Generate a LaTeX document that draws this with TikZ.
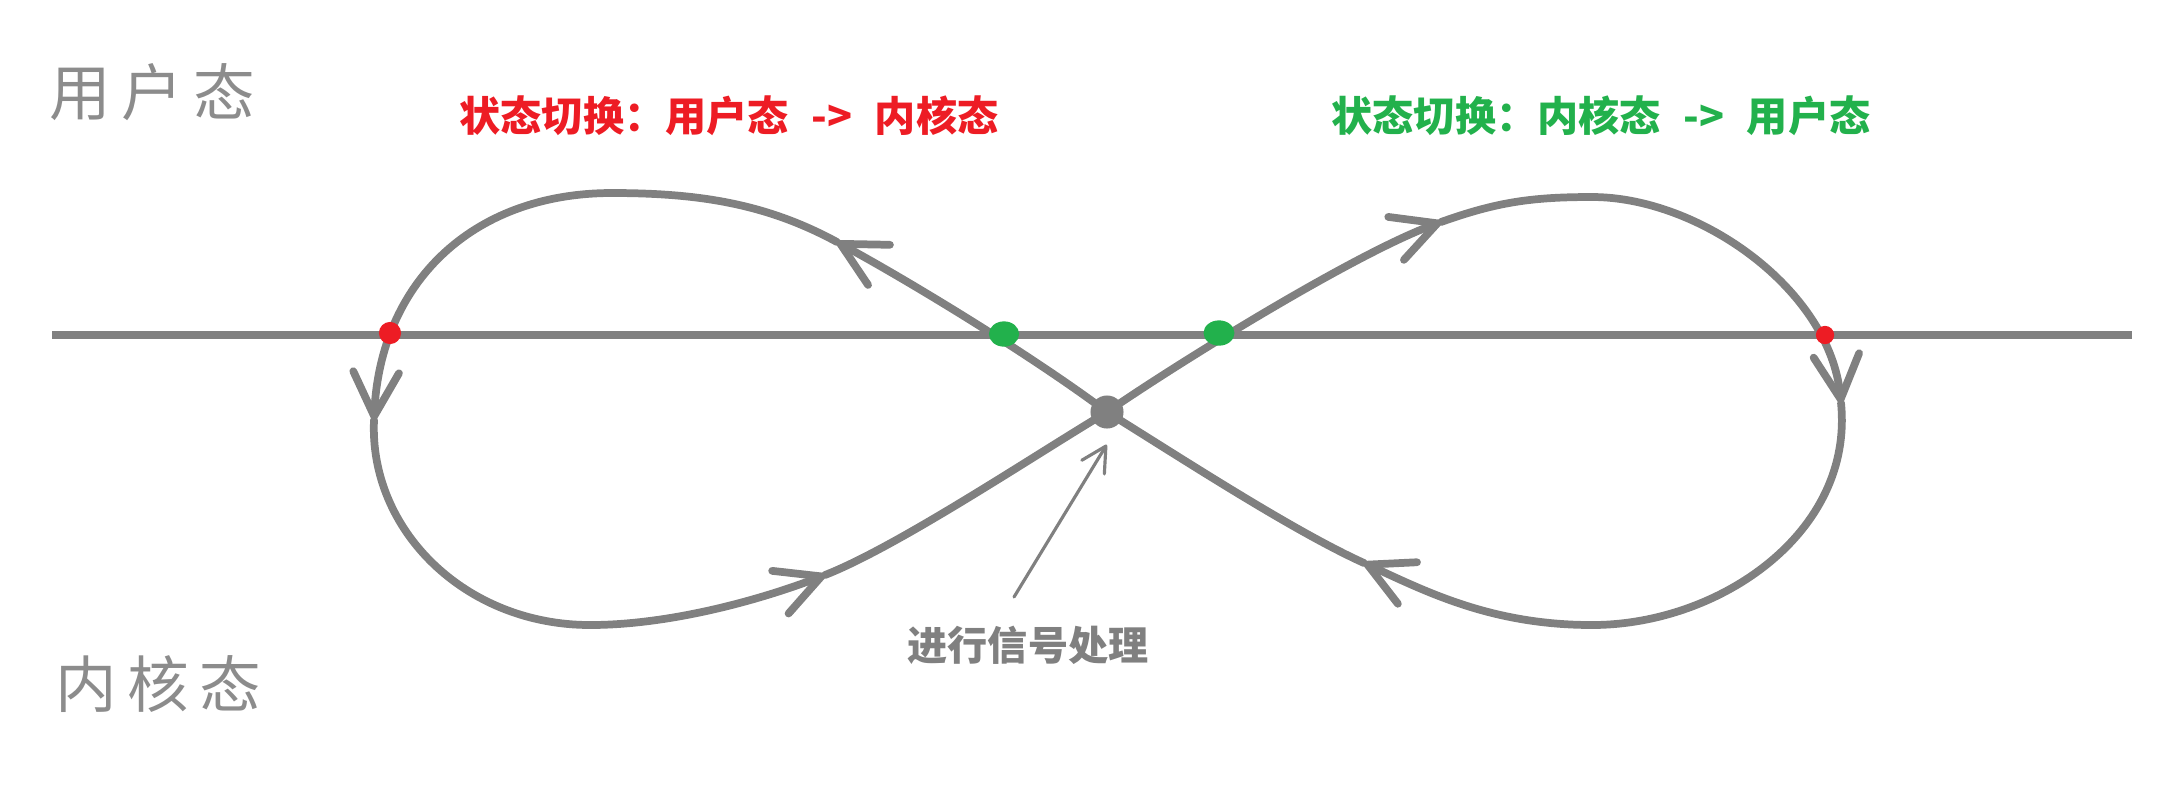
\documentclass[tikz,border=0pt]{standalone}
\usepackage{fontspec}
\newfontfamily\cjk{Noto Sans CJK SC}
\usetikzlibrary{arrows.meta, calc, shapes.geometric}

\definecolor{linegray}{RGB}{128,128,128}
\definecolor{txtgray}{RGB}{140,140,140}
\definecolor{dotred}{RGB}{237,28,36}
\definecolor{dotgreen}{RGB}{34,177,76}

\tikzset{
    flow/.style={draw=linegray, line width=2.2pt, line cap=round, line join=round},
    flowtip/.style={flow, -{Straight Barb[length=12.5pt, width=13pt, round]}},
    pointer/.style={draw=linegray, line width=0.9pt, line cap=round,
        -{Straight Barb[length=7pt, width=7.5pt, round]}},
    crossdot/.style={circle, fill=#1, inner sep=0pt},
    statelabel/.style={font=\cjk\fontsize{17.5pt}{20pt}\selectfont, text=txtgray},
    switchlabel/.style={font=\cjk\bfseries\fontsize{11.7pt}{14pt}\selectfont, text=#1},
}
\newcommand{\arrowgap}{\hspace{0.55em}->\hspace{0.55em}}

\begin{document}
\begin{tikzpicture}[x=0.01cm, y=-0.01cm]
    \useasboundingbox (0,0) rectangle (2158,796);

    % user / kernel boundary
    \coordinate (west) at (52,335);
    \coordinate (east) at (2132,335);
    \draw[flow, line cap=butt] (west) -- (east);

    % state labels
    \node[statelabel] (user) at (152,92) {用\kern3pt 户\kern3pt 态};
    \node[statelabel] (kernel) at (158,684) {内\kern3pt 核\kern3pt 态};
    \node[switchlabel=dotred] (toKernel) at (729,116) {状态切换：用户态\arrowgap 内核态};
    \node[switchlabel=dotgreen] (toUser) at (1601,116) {状态切换：内核态\arrowgap 用户态};

    % points on the loop
    \coordinate (cross) at (1107,412);
    \coordinate (lA) at (837,242);
    \coordinate (lT) at (612,193);
    \coordinate (lL) at (374,420);
    \coordinate (lB) at (590,625);
    \coordinate (lC) at (825,575);
    \coordinate (rA) at (1441,222);
    \coordinate (rT) at (1592,197);
    \coordinate (rR) at (1841,403);
    \coordinate (rB) at (1592,625);
    \coordinate (rC) at (1364,563);

    % left loop
    \draw[flowtip] (cross) .. controls (1035,358) and (916,285) .. (lA);
    \draw[flowtip] (lA) .. controls (767,204) and (700,193) .. (lT)
        .. controls (470,193) and (380,285) .. (lL);
    \draw[flowtip] (lL) .. controls (369,530) and (465,625) .. (lB)
        .. controls (670,625) and (760,600) .. (lC);
    \draw[flow] (lC) .. controls (899,546) and (1038,453) .. (cross);

    % right loop
    \draw[flowtip] (cross) .. controls (1181,361) and (1356,253) .. (rA);
    \draw[flowtip] (rA) .. controls (1497,202) and (1532,197) .. (rT)
        .. controls (1700,197) and (1830,290) .. (rR);
    \draw[flowtip] (rR) .. controls (1854,532) and (1720,625) .. (rB)
        .. controls (1492,625) and (1427,592) .. (rC);
    \draw[flow] (rC) .. controls (1291,530) and (1175,454) .. (cross);

    % switch points
    \node[crossdot=dotred, minimum size=6.3pt] (lRed) at (390,333) {};
    \node[crossdot=dotred, minimum size=5.2pt] (rRed) at (1825,335) {};
    \node[crossdot=dotgreen, ellipse, minimum width=8.6pt, minimum height=7.2pt] (lGreen) at (1004,334) {};
    \node[crossdot=dotgreen, ellipse, minimum width=8.8pt, minimum height=7.2pt] (rGreen) at (1219,333) {};
    \node[crossdot=linegray, minimum size=9.4pt] (sigdot) at (cross) {};

    % signal handling
    \node[font=\cjk\bfseries\fontsize{11.4pt}{13pt}\selectfont, text=linegray] (sig) at (1028,645) {进行信号处理};
    \coordinate (ptr) at (1014,597);
    \draw[pointer, shorten >=0.24cm] (ptr) -- (sigdot.south east);
\end{tikzpicture}
\end{document}
